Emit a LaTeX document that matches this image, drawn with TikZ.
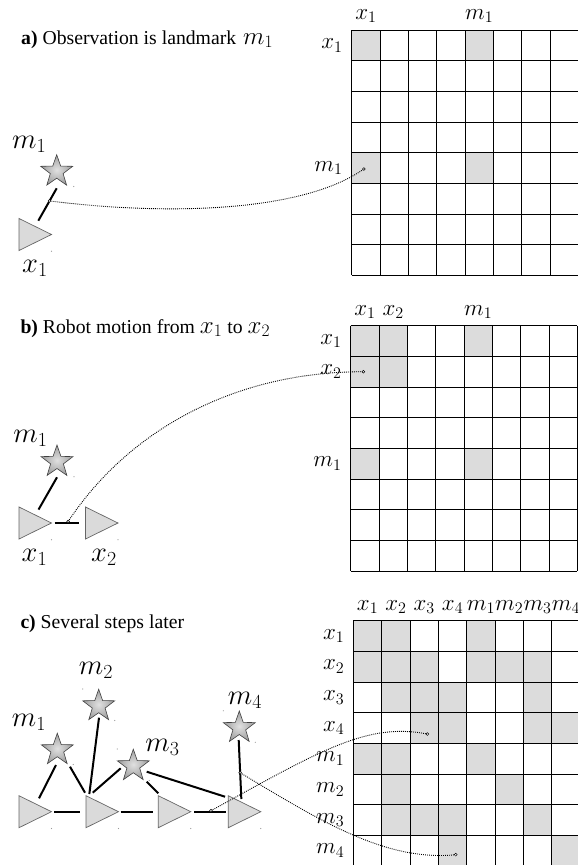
\RequirePackage{fix-cm}
\documentclass[tikz,border=0pt]{standalone}
\usepackage[no-math]{fontspec}
\setmainfont{Liberation Serif}
\usetikzlibrary{shapes.geometric,calc}
\definecolor{cellgray}{HTML}{DCDCDC}
\definecolor{trigray}{HTML}{DADADA}
\newcommand\glfont{\fontsize{23}{25}\selectfont}
\newcommand\mlfont{\fontsize{28.5}{30}\selectfont}
\newcommand\ttlfont{\fontsize{19.7}{23}\selectfont}
\newcommand\tmfont{\fontsize{25}{27}\selectfont}
\tikzset{
  robot/.style={fill=trigray, draw=black!60, line width=0.7pt, line join=miter},
  lmk/.style={shape=star, star points=5, star point ratio=2.5, minimum size=33.6pt,
    inner sep=0pt, draw=black!75, line width=0.6pt, inner color=black!12, outer color=black!38},
  edge/.style={line width=2pt, black},
  obs/.style={draw=black, line width=0.9pt, dash pattern=on 0.9pt off 1.1pt},
  endmark/.style={draw=black, fill=white, line width=0.5pt},
  cellfill/.style={fill=cellgray},
  gridline/.style={line width=0.9pt, black},
  glabel/.style={inner sep=0pt, font=\glfont},
  mlabel/.style={inner sep=0pt, font=\mlfont},
  ttl/.style={inner sep=0pt, anchor=base west, font=\ttlfont},
  speck/.style={fill=black!40}
}
% triangle robot pose: name, left x, centre y
\newcommand\robotat[3]{%
  \coordinate (#1) at ({#2+10.83},#3);
  \draw[robot] (#2,{#3-16}) -- ({#2+32.5},#3) -- (#2,{#3+16}) -- cycle;
  \fill[speck] ({#2+32.5},{#3+16.8}) circle (0.6pt);
}
% matrix grid: X0, Y0, shaded cells r/c
\newcommand\matgrid[3]{%
  \foreach \r/\c in {#3} {\fill[cellfill] ({#1+(\c-1)*28.33},{#2+(\r-1)*30.67}) rectangle ++(28.33,30.67);}
  \foreach \i in {0,...,8} {%
    \draw[gridline] ({#1+\i*28.33},#2) -- ({#1+\i*28.33},{#2+8*30.67});
    \draw[gridline] (#1,{#2+\i*30.67}) -- ({#1+8*28.33},{#2+\i*30.67});
  }
}
\begin{document}
\begin{tikzpicture}[x=1pt,y=-1pt]
\useasboundingbox (0,0) rectangle (578,865);

% ================= panel a =================
\node[ttl] (tta) at (21,44) {\textbf{a)} Observation is landmark\ \kern2pt{\tmfont$m_1$}};
\matgrid{351.7}{30}{1/1,1/5,5/1,5/5}
\node[glabel, anchor=south] (hax1) at ({351.7+0.5*28.33},23) {$x_1$};
\node[glabel, anchor=south] (ham1) at ({351.7+4.5*28.33},23) {$m_1$};
\node[glabel, anchor=east] (rax1) at (342.7,{30+0.5*30.67}) {$x_1$};
\node[glabel, anchor=east] (ram1) at (342.7,{30+4.5*30.67}) {$m_1$};

\node[lmk] (ma1) at (56.7,171.5) {};
\fill[speck] ($(ma1)+(17,15)$) circle (0.6pt);
\robotat{ta1}{19}{234.5}
\node[mlabel] (lma1) at (29.2,144) {$m_1$};
\node[mlabel] (lxa1) at (35,268) {$x_1$};
\coordinate (ea1) at ($(ma1)+(0,16.8)$);
\coordinate (ea2) at ($(ta1)+(8.5,-13.8)$);
\draw[edge] (ea1) -- (ea2);
\coordinate (sa) at ($(ea1)!0.39!(ea2)$);
\coordinate (cella) at ({351.7+0.5*28.33-2},{30+4.5*30.67+1});
\draw[obs] (sa) .. controls +(110.7,14) and +(-63.9,44.7) .. (cella);
\draw[endmark] (sa) circle (1.4pt);
\draw[endmark] (cella) circle (1.4pt);

% ================= panel b =================
\node[ttl] (ttb) at (20.3,333) {\textbf{b)} Robot motion from {\tmfont$x_1$} to {\tmfont$x_2$}};
\matgrid{350.7}{325.7}{1/1,1/2,1/5,2/1,2/2,5/1,5/5}
\node[glabel, anchor=south] (hbx1) at ({350.7+0.5*28.33},318.7) {$x_1$};
\node[glabel, anchor=south] (hbx2) at ({350.7+1.5*28.33},318.7) {$x_2$};
\node[glabel, anchor=south] (hbm1) at ({350.7+4.5*28.33},318.7) {$m_1$};
\node[glabel, anchor=east] (rbx1) at (341.7,{325.7+0.5*30.67}) {$x_1$};
\node[glabel, anchor=east] (rbx2) at (341.7,{325.7+1.5*30.67}) {$x_2$};
\node[glabel, anchor=east] (rbm1) at (341.7,{325.7+4.5*30.67}) {$m_1$};

\node[lmk] (mb1) at (57,461.8) {};
\fill[speck] ($(mb1)+(17,15)$) circle (0.6pt);
\robotat{tb1}{19}{523}
\robotat{tb2}{85.5}{523}
\node[mlabel] (lmb1) at (30.4,438) {$m_1$};
\node[mlabel] (lxb1) at (34.5,557.5) {$x_1$};
\node[mlabel] (lxb2) at (104,557.5) {$x_2$};
\coordinate (eb1) at ($(mb1)+(0,15.5)$);
\coordinate (eb2) at ($(tb1)+(8.7,-13.4)$);
\draw[edge] (eb1) -- (eb2);
\coordinate (eb3) at ($(tb1)+(24.7,0)$);
\coordinate (eb4) at ($(tb2)+(-17.1,0)$);
\draw[edge] (eb3) -- (eb4);
\coordinate (sb0) at ($(eb3)!0.55!(eb4)$);
\coordinate (sb) at ($(sb0)+(0,-1.5)$);
\coordinate (cellb) at ({350.7+0.5*28.33-1.5},{325.7+1.5*30.67});
\draw[obs] (sb) .. controls +(60,-90.5) and +(-130,0) .. (cellb);
\draw[endmark] (sb) circle (1.4pt);
\draw[endmark] (cellb) circle (1.4pt);

% ================= panel c =================
\node[ttl] (ttc) at (20.3,628) {\textbf{c)} Several steps later};
\matgrid{353.4}{620.7}{1/1,1/2,1/5,
  2/1,2/2,2/3,2/5,2/6,2/7,
  3/2,3/3,3/4,3/7,
  4/3,4/4,4/7,4/8,
  5/1,5/2,5/5,
  6/2,6/6,
  7/2,7/3,7/4,7/7,
  8/4,8/8}
\foreach \lab [count=\k] in {x_1,x_2,x_3,x_4,m_1,m_2,m_3,m_4} {
  \node[glabel, anchor=south] (hc\k) at ({353.4+(\k-0.5)*28.33},613.7) {$\lab$};
  \node[glabel, anchor=east] (rc\k) at (344.4,{620.7+(\k-0.5)*30.67}) {$\lab$};
}

\node[lmk] (mc1) at (57.3,750) {};
\node[lmk] (mc2) at (98.7,706) {};
\node[lmk] (mc3) at (133.3,766) {};
\node[lmk] (mc4) at (239.3,727.8) {};
\foreach \s in {mc1,mc2,mc3,mc4} {\fill[speck] ($(\s)+(16,14.5)$) circle (0.6pt);}
\foreach \s in {mc2,mc3,mc4} {\fill[speck] ($(\s)+(-16,-17)$) circle (0.6pt);}
\robotat{tc1}{19}{811.7}
\robotat{tc2}{86}{811.7}
\robotat{tc3}{158.3}{811.7}
\robotat{tc4}{228.3}{811.7}
\node[mlabel] (lmc1) at (29,722.5) {$m_1$};
\node[mlabel] (lmc2) at (96,670) {$m_2$};
\node[mlabel] (lmc3) at (162.5,747.5) {$m_3$};
\node[mlabel] (lmc4) at (245,700.5) {$m_4$};

\draw[edge] ($(mc1)+(-1.3,15)$) -- ($(tc1)+(9.2,-13.4)$);
\draw[edge] ($(mc1)+(12.7,16.7)$) -- ($(tc2)+(-11.8,-19)$);
\draw[edge] ($(mc2)+(0.3,11.7)$) -- ($(tc2)+(-7.5,-17.7)$);
\draw[edge] ($(mc3)+(-12.6,2.3)$) -- ($(tc2)+(-4.1,-19)$);
\draw[edge] ($(mc3)+(13.4,15.7)$) -- ($(tc3)+(-10.8,-18.4)$);
\draw[edge] ($(mc3)+(13.4,5.7)$) -- ($(tc4)+(-14.1,-15)$);
\coordinate (ec1) at ($(mc4)+(-0.6,12.2)$);
\coordinate (ec2) at ($(tc4)+(2.2,-12.7)$);
\draw[edge] (ec1) -- (ec2);
\draw[edge] ($(tc1)+(24.2,0)$) -- ($(tc2)+(-16.8,0)$);
\draw[edge] ($(tc2)+(23.9,0)$) -- ($(tc3)+(-15.8,0)$);
\coordinate (ec3) at ($(tc3)+(24.9,0)$);
\coordinate (ec4) at ($(tc4)+(-13.1,0)$);
\draw[edge] (ec3) -- (ec4);

\coordinate (sc10) at ($(ec3)!0.53!(ec4)$);
\coordinate (sc1) at ($(sc10)+(0,-1)$);
\coordinate (sc2) at ($(ec1)!0.555!(ec2)$);
\coordinate (cellc1) at ({353.4+2.5*28.33+3.2},{620.7+3.5*30.67+6});
\coordinate (cellc2) at ({353.4+3.5*28.33+3.2},{620.7+7.5*30.67+4});
\draw[obs] (sc1) .. controls +(110,-60.5) and +(-59.9,-11.9) .. (cellc1);
\draw[obs] (sc2) .. controls +(80,48) and +(-70.1,7) .. (cellc2);
\foreach \p in {sc1,sc2,cellc1,cellc2} {\draw[endmark] (\p) circle (1.4pt);}
\end{tikzpicture}
\end{document}
